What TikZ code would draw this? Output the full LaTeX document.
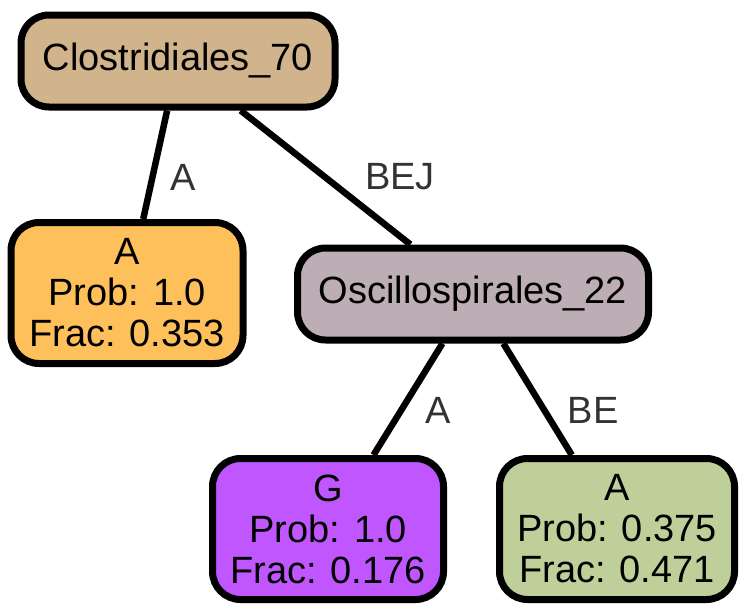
\documentclass[tikz,border=0pt]{standalone}
\usepackage{fontspec}
\setmainfont{Liberation Sans}
\usepackage{xcolor}
\usepackage{tikz}
\usetikzlibrary{positioning}

\definecolor{tanfill}{HTML}{D2B48C}
\definecolor{orangefill}{HTML}{FEC05A}
\definecolor{mauvefill}{HTML}{BCAEB4}
\definecolor{purplefill}{HTML}{C056FE}
\definecolor{greenfill}{HTML}{BECF9A}
\definecolor{labelgray}{HTML}{333333}

\begin{document}
\begin{tikzpicture}[
    x=1pt, y=-1pt,
    font=\fontsize{38}{41}\selectfont,
    % Styles
    treenode/.style={
      draw=black,
      line width=7pt,
      rounded corners=28pt,
      align=center,
      inner sep=0pt
    },
    leafnode/.style={
      treenode,
      minimum height=141pt
    },
    innernode/.style={
      treenode,
      minimum height=92pt
    },
    edge/.style={
      draw=black,
      line width=6.5pt
    },
    edgelabel/.style={
      text=labelgray,
      inner sep=0pt
    }
  ]

    % Bounding box of the whole image
    \useasboundingbox (0,0) rectangle (749,613);

    % Inner nodes
    \node (clos) [innernode, fill=tanfill, minimum width=314pt] at (178, 61) {Clostridiales\_70};
    \node (osci) [innernode, fill=mauvefill, minimum width=351pt] at (473, 294) {Oscillospirales\_22};

    % Leaves
    \node (leafa) [leafnode, fill=orangefill, minimum width=232pt] at (127, 293) {A\\Prob: 1.0\\Frac: 0.353};
    \node (leafg) [leafnode, fill=purplefill, minimum width=231pt] at (328, 529) {G\\Prob: 1.0\\Frac: 0.176};
    \node (leafb) [leafnode, fill=greenfill, minimum width=235pt] at (617, 529) {A\\Prob: 0.375\\Frac: 0.471};

    % Connections
    \draw [edge] (clos) -- (leafa);
    \draw [edge] (clos) -- (osci);
    \draw [edge] (osci) -- (leafg);
    \draw [edge] (osci) -- (leafb);

    % Edge labels
    \node (la) [edgelabel] at (183, 177) {A};
    \node (lbej) [edgelabel] at (400, 177) {BEJ};
    \node (lga) [edgelabel] at (438, 410) {A};
    \node (lbe) [edgelabel] at (593, 410) {BE};

  \end{tikzpicture}
\end{document}
